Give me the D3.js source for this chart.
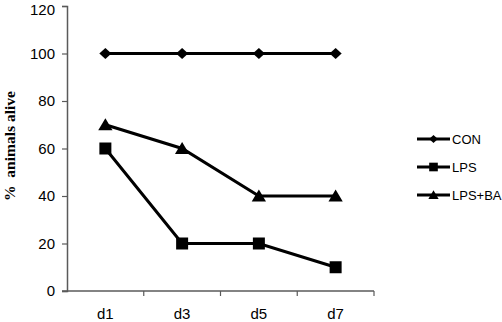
<!DOCTYPE html>
<html>
<head>
<meta charset="utf-8">
<script src="https://cdn.jsdelivr.net/npm/d3@7"></script>
<style>
  body { margin: 0; background: #fff; }
  svg { display: block; }
</style>
</head>
<body>
<script>
var days = ["d1", "d3", "d5", "d7"];
var conValues = [100, 100, 100, 100];
var lpsValues = [60, 20, 20, 10];
var lpsBaValues = [70, 60, 40, 40];
var seriesNames = ["CON", "LPS", "LPS+BA"];
var yTicks = [0, 20, 40, 60, 80, 100, 120];

var width = 502, height = 322;
var svg = d3.select("body").append("svg")
  .attr("width", width)
  .attr("height", height);

var x = d3.scaleBand().domain(days).range([67, 374]);
var y = d3.scaleLinear().domain([0, 120]).range([291, 6]);

var axisColor = "#5a5a5a";

// y axis
var yAxis = svg.append("g")
  .attr("transform", "translate(67,0)")
  .call(d3.axisLeft(y).tickValues(yTicks).tickSize(5).tickPadding(7).tickFormat(d3.format("d")));
yAxis.select(".domain").attr("stroke", axisColor).attr("stroke-width", 1.5);
yAxis.selectAll(".tick line").attr("stroke", axisColor).attr("stroke-width", 1.2);
yAxis.selectAll("text")
  .attr("font-family", "Liberation Sans, Arial, sans-serif")
  .attr("font-size", 15)
  .attr("fill", "#000");
// keep the top label inside the picture
yAxis.selectAll("text").filter(function(d){ return d === 120; }).attr("dy", "0.55em");

// x axis: ticks at band edges
var xAxisG = svg.append("g").attr("transform", "translate(0,291)");
xAxisG.append("line")
  .attr("x1", 62).attr("x2", x.range()[1])
  .attr("stroke", axisColor).attr("stroke-width", 1.5);
var edges = days.map(function(d){ return x(d); }).concat([x.range()[1]]);
xAxisG.selectAll("line.tk")
  .data(edges.slice(1))
  .enter().append("line")
  .attr("class", "tk")
  .attr("x1", function(d){ return d; })
  .attr("x2", function(d){ return d; })
  .attr("y1", 0).attr("y2", 5)
  .attr("stroke", axisColor).attr("stroke-width", 1.2);
xAxisG.selectAll("text")
  .data(days)
  .enter().append("text")
  .attr("x", function(d){ return x(d) + x.bandwidth() / 2; })
  .attr("y", 28)
  .attr("text-anchor", "middle")
  .attr("font-family", "Liberation Sans, Arial, sans-serif")
  .attr("font-size", 15)
  .text(function(d){ return d; });

// y title
svg.append("text")
  .attr("transform", "translate(15,146) rotate(-90)")
  .attr("text-anchor", "middle")
  .attr("font-family", "Liberation Serif, Times New Roman, serif")
  .attr("font-weight", "bold")
  .attr("font-size", 15.5)
  .attr("xml:space", "preserve")
  .text("%  animals alive");

var series = [
  { name: seriesNames[0], values: conValues, symbol: "diamond" },
  { name: seriesNames[1], values: lpsValues, symbol: "square" },
  { name: seriesNames[2], values: lpsBaValues, symbol: "triangle" }
];

function markerPath(type, s) {
  if (type === "diamond") return "M0," + (-s * 0.5) + "L" + (s * 0.55) + ",0L0," + (s * 0.5) + "L" + (-s * 0.55) + ",0Z";
  if (type === "square") return "M" + (-s/2) + "," + (-s/2) + "h" + s + "v" + s + "h" + (-s) + "Z";
  return "M0," + (-s * 0.5) + "L" + (s * 0.55) + "," + (s * 0.42) + "L" + (-s * 0.55) + "," + (s * 0.42) + "Z";
}
var markerSize = { diamond: 11, square: 12, triangle: 13 };

var line = d3.line()
  .x(function(d, i){ return x(days[i]) + x.bandwidth() / 2; })
  .y(function(d){ return y(d); });

series.forEach(function(s) {
  svg.append("path")
    .attr("d", line(s.values))
    .attr("fill", "none")
    .attr("stroke", "#000")
    .attr("stroke-width", 3);
  svg.selectAll(null)
    .data(s.values)
    .enter().append("path")
    .attr("transform", function(d, i){ return "translate(" + (x(days[i]) + x.bandwidth() / 2) + "," + y(d) + ")"; })
    .attr("d", markerPath(s.symbol, markerSize[s.symbol]))
    .attr("fill", "#000");
});

// legend
var legend = svg.append("g");
series.forEach(function(s, i) {
  var ly = 139 + i * 28;
  legend.append("line")
    .attr("x1", 417).attr("x2", 450)
    .attr("y1", ly).attr("y2", ly)
    .attr("stroke", "#000").attr("stroke-width", 3);
  legend.append("path")
    .attr("transform", "translate(433.5," + ly + ")")
    .attr("d", markerPath(s.symbol, markerSize[s.symbol] * 0.72))
    .attr("fill", "#000");
  legend.append("text")
    .attr("x", 452).attr("y", ly + 5)
    .attr("font-family", "Liberation Sans, Arial, sans-serif")
    .attr("font-size", 13)
    .text(s.name);
});
</script>
</body>
</html>
